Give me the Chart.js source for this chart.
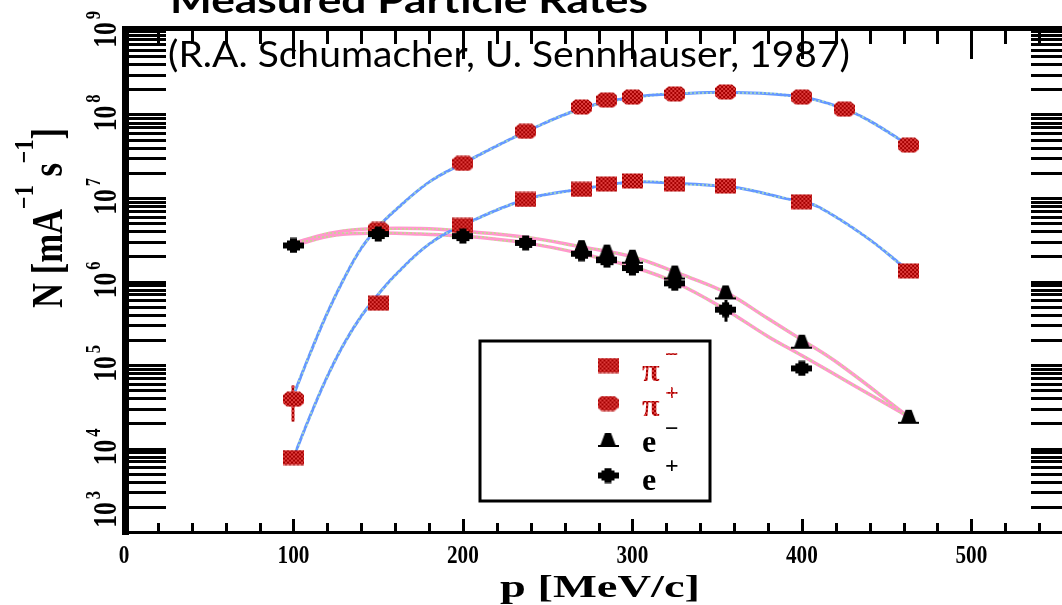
<!DOCTYPE html>
<html>
<head>
<meta charset="utf-8">
<title>Measured Particle Rates</title>
<script src="https://cdn.jsdelivr.net/npm/chart.js@4.4.1/dist/chart.umd.min.js"></script>
<style>
  html, body { margin: 0; padding: 0; background: #fff; overflow: hidden; }
  #wrap { position: relative; width: 1090px; height: 605px; }
</style>
</head>
<body>
<div id="wrap"><canvas id="rates" width="1090" height="605"></canvas></div>
<script>
// values: p in MeV/c, N in (mA s)^-1
const piMinusP = [100, 150, 200, 237, 270, 285, 300, 325, 355, 400, 463];
const piMinusN = [7.8e3, 5.5e5, 4.7e6, 9.6e6, 1.27e7, 1.47e7, 1.6e7, 1.47e7, 1.39e7, 9.0e6, 1.34e6];
const piPlusP = [100, 150, 200, 237, 270, 285, 300, 325, 355, 400, 425, 463];
const piPlusN = [3.9e4, 4.2e6, 2.6e7, 6.3e7, 1.23e8, 1.49e8, 1.62e8, 1.76e8, 1.86e8, 1.62e8, 1.16e8, 4.3e7];
const eMinusP = [270, 285, 300, 325, 355, 400, 463];
const eMinusN = [2.58e6, 2.28e6, 1.98e6, 1.28e6, 7.4e5, 1.9e5, 2.4e4];
const ePlusP = [100, 150, 200, 237, 270, 285, 300, 325, 355, 400];
const ePlusN = [2.7e6, 3.7e6, 3.5e6, 2.9e6, 2.15e6, 1.8e6, 1.45e6, 9.5e5, 4.6e5, 9.1e4];

// error bars as [p, low, high]
const piPlusErr = [[100, 2.1e4, 5.7e4]];
const ePlusErr = [[355, 3.3e5, 6.0e5]];

// the hand-drawn curves
const piPlusFitP = [101, 110, 120, 130, 140, 150, 160, 180, 200, 237, 270, 300, 330, 360, 400, 425, 440, 463];
const piPlusFitN = [4.9e4, 1.4e5, 4.2e5, 1.1e6, 2.5e6, 4.5e6, 7.1e6, 1.55e7, 2.6e7, 6.2e7, 1.18e8, 1.6e8, 1.78e8, 1.84e8, 1.62e8, 1.17e8, 8.4e7, 4.3e7];
const piMinusFitP = [100, 110, 120, 130, 140, 150, 160, 180, 200, 237, 270, 300, 325, 355, 370, 390, 400, 410, 438, 463];
const piMinusFitN = [7.8e3, 2.5e4, 7.3e4, 1.82e5, 3.84e5, 7.0e5, 1.19e6, 2.8e6, 4.73e6, 9.6e6, 1.28e7, 1.55e7, 1.5e7, 1.38e7, 1.24e7, 9.9e6, 9.0e6, 7.8e6, 3.4e6, 1.34e6];
const eMinusFitP = [100, 125, 150, 175, 200, 237, 270, 300, 325, 355, 380, 400, 420, 463];
const eMinusFitN = [2.9e6, 3.9e6, 4.3e6, 4.3e6, 4.0e6, 3.4e6, 2.6e6, 1.98e6, 1.3e6, 7.4e5, 3.6e5, 2.0e5, 1.1e5, 2.4e4];
const ePlusFitP = [100, 125, 150, 175, 200, 237, 270, 300, 325, 355, 380, 400, 430, 463];
const ePlusFitN = [2.7e6, 3.6e6, 3.8e6, 3.7e6, 3.5e6, 2.9e6, 2.15e6, 1.5e6, 9.8e5, 4.6e5, 2.2e5, 1.3e5, 5.8e4, 2.4e4];

// axes
const xLabelValues = [0, 100, 200, 300, 400, 500];
const xMinorStep = 20;
const yDecades = [3, 4, 5, 6, 7, 8, 9];

const legendBase = ['π', 'π', 'e', 'e'];
const legendCharge = ['−', '+', '−', '+'];

const SERIF = '"Liberation Serif", "DejaVu Serif", serif';

const canvas = document.getElementById('rates');
const ctx = canvas.getContext('2d');

// old gif dithering: two colours in a checker
function checkerTile(c1, c2, cell) {
  const c = document.createElement('canvas');
  c.width = c.height = cell * 2;
  const g = c.getContext('2d');
  g.fillStyle = c1;
  g.fillRect(0, 0, cell * 2, cell * 2);
  g.fillStyle = c2;
  g.fillRect(cell, 0, cell, cell);
  g.fillRect(0, cell, cell, cell);
  return c;
}
// mostly one colour with sparse dots of the other
function dotTile(main, dot) {
  const c = document.createElement('canvas');
  c.width = c.height = 4;
  const g = c.getContext('2d');
  g.fillStyle = main;
  g.fillRect(0, 0, 4, 4);
  g.fillStyle = dot;
  g.fillRect(2, 0, 2, 2);
  return c;
}
const redFill = ctx.createPattern(checkerTile('#a40000', '#de3c3c', 2), 'repeat');
const blueStroke = ctx.createPattern(dotTile('#6699ff', '#99cccc'), 'repeat');
const pinkStroke = ctx.createPattern(dotTile('#ff99cc', '#cccc99'), 'repeat');

const shapes = {
  square: [[0, 0.5], [21, 0.5], [21, 15.5], [0, 15.5]],
  circle: [[4, 0.5], [17, 0.5], [21, 4], [21, 12], [17, 15.5], [4, 15.5], [0, 12], [0, 4]],
  triangle: [[7.5, 1], [13.5, 1], [18, 13], [21, 13], [21, 15], [0, 15], [0, 13], [3, 13]],
  diamond: [[7, 0.5], [14, 0.5], [14, 3], [17, 3], [17, 5], [21, 5], [21, 11], [17, 11], [17, 13], [14, 13],
            [14, 15.5], [7, 15.5], [7, 13], [4, 13], [4, 11], [0, 11], [0, 5], [4, 5], [4, 3], [7, 3]],
};
function markerCanvas(shape, red) {
  const c = document.createElement('canvas');
  c.width = 21;
  c.height = 16;
  const g = c.getContext('2d');
  g.fillStyle = red ? g.createPattern(checkerTile('#a40000', '#de3c3c', 2), 'repeat') : '#000';
  g.beginPath();
  shapes[shape].forEach(([x, y], i) => (i ? g.lineTo(x, y) : g.moveTo(x, y)));
  g.closePath();
  g.fill();
  return c;
}
const markers = [
  markerCanvas('square', true),
  markerCanvas('circle', true),
  markerCanvas('triangle', false),
  markerCanvas('diamond', false),
];

const pts = (xs, ys) => xs.map((x, i) => ({ x, y: ys[i] }));
const fit = (label, xs, ys, stroke, w) => ({
  label, data: pts(xs, ys), borderColor: stroke, borderWidth: w,
  pointRadius: 0, fill: false, tension: 0.4, order: 5,
});
const marks = (label, xs, ys, img, order) => ({
  label, data: pts(xs, ys), showLine: false, pointStyle: img, pointRadius: 10, order,
});

function errorBars(g, xs, ys, list, color) {
  g.save();
  g.strokeStyle = color;
  g.lineWidth = 3;
  list.forEach(([p, lo, hi]) => {
    const x = Math.round(xs.getPixelForValue(p));
    g.beginPath();
    g.moveTo(x, ys.getPixelForValue(hi));
    g.lineTo(x, ys.getPixelForValue(lo));
    g.stroke();
  });
  g.restore();
}

// draw text pieces one after another, squeezed or stretched to a width
function pieces(g, parts, width) {
  let total = 0;
  parts.forEach((p) => { g.font = p.font; total += g.measureText(p.t).width; });
  const sx = width / total;
  g.scale(sx, 1);
  let x = 0;
  parts.forEach((p) => {
    g.font = p.font;
    g.fillStyle = p.color || '#000';
    g.fillText(p.t, x, p.dy || 0);
    x += g.measureText(p.t).width;
  });
}

const decorations = {
  id: 'decorations',
  beforeDatasetsDraw(chart) {
    const { x: xs, y: ys } = chart.scales;
    errorBars(chart.ctx, xs, ys, piPlusErr, redFill);
    errorBars(chart.ctx, xs, ys, ePlusErr, '#000');
  },
  afterDraw(chart) {
    const g = chart.ctx;
    const ca = chart.chartArea;
    const { x: xs, y: ys } = chart.scales;
    g.save();
    g.fillStyle = '#000';

    // frame
    g.fillRect(ca.left - 2, ca.top - 5, 7, ca.bottom - ca.top + 8);
    g.fillRect(ca.left - 2, ca.top - 5, ca.right - ca.left + 4, 5);
    g.fillRect(ca.left - 2, ca.bottom - 1, ca.right - ca.left + 4, 3);
    g.fillRect(ca.right - 5, ca.top - 5, 7, ca.bottom - ca.top + 8);

    // log ticks inside on both sides
    yDecades.forEach((e) => {
      for (let m = 1; m <= 9; m++) {
        const v = m * Math.pow(10, e);
        if (v > ys.max) break;
        const y = Math.round(ys.getPixelForValue(v));
        g.fillRect(ca.left + 5, y - 1, 37, 3);
        g.fillRect(ca.right - 42, y - 1, 37, 3);
      }
    });

    // x ticks, longer at the labelled ones
    for (let v = xMinorStep; v < xs.max; v += xMinorStep) {
      const x = Math.round(xs.getPixelForValue(v));
      const major = xLabelValues.includes(v);
      g.fillRect(x - 1, ca.bottom - 1 - (major ? 12 : 8), 3, major ? 12 : 8);
      g.fillRect(x - 1, ca.top, 3, major ? 28 : 13);
    }

    // x tick labels
    xLabelValues.forEach((v) => {
      const x = xs.getPixelForValue(v);
      g.save();
      g.translate(x, 563);
      g.scale(0.85, 1);
      g.font = 'bold 25px ' + SERIF;
      g.textAlign = 'center';
      g.fillText(String(v), 0, 0);
      g.restore();
    });

    // y tick labels, written upwards
    yDecades.forEach((e, i) => {
      let y = ys.getPixelForValue(Math.pow(10, e)) + 4;
      if (i === 0) y = ca.bottom - 17;
      g.save();
      g.translate(116, y);
      g.rotate(-Math.PI / 2);
      g.scale(0.75, 1);
      g.font = 'bold 34px ' + SERIF;
      g.textAlign = 'center';
      g.fillText('10', 0, 0);
      const w = g.measureText('10').width;
      g.font = 'bold 22px ' + SERIF;
      g.textAlign = 'left';
      g.fillText(String(e), w / 2 + 4, -16);
      g.restore();
    });

    // axis titles
    g.save();
    g.translate(500, 597);
    pieces(g, [{ t: 'p [MeV/c]', font: 'bold 32px ' + SERIF }], 200);
    g.restore();

    g.save();
    g.translate(62, 308);
    g.rotate(-Math.PI / 2);
    const big = 'bold 44px ' + SERIF, sup = 'bold 28px ' + SERIF;
    pieces(g, [
      { t: 'N [mA', font: big },
      { t: '−1', font: sup, dy: -29 },
      { t: ' s', font: big },
      { t: '−1', font: sup, dy: -29 },
      { t: ']', font: big },
    ], 180);
    g.restore();

    // legend box
    g.lineWidth = 3;
    g.strokeStyle = '#000';
    g.fillStyle = '#fff';
    g.fillRect(480, 341, 230, 160);
    g.strokeRect(480, 341, 230, 160);
    const rowSym = [365.5, 403.5, 440, 475.5];
    const rowBase = [381, 416, 452, 490];
    const rowSup = [356, 393.5, 430, 466.5];
    markers.forEach((img, i) => {
      g.drawImage(img, 608 - img.width / 2, rowSym[i] - img.height / 2);
      g.fillStyle = i < 2 ? redFill : '#000';
      g.font = 'bold 32px ' + SERIF;
      g.textAlign = 'left';
      g.textBaseline = 'alphabetic';
      g.fillText(legendBase[i], 642, rowBase[i]);
      g.font = 'bold 24px ' + SERIF;
      g.textBaseline = 'middle';
      g.fillText(legendCharge[i], 665, rowSup[i]);
      g.textBaseline = 'alphabetic';
    });

    // title and subtitle
    g.fillStyle = '#000';
    g.save();
    g.translate(170, 13);
    pieces(g, [{ t: 'Measured Particle Rates', font: 'bold 36px Lato, "Open Sans", sans-serif' }], 478);
    g.restore();
    g.save();
    g.translate(168, 67);
    pieces(g, [{ t: '(R.A. Schumacher, U. Sennhauser, 1987)', font: '36px Lato, "Open Sans", sans-serif' }], 682);
    g.restore();

    g.restore();
  },
};

new Chart(ctx, {
  type: 'line',
  data: {
    datasets: [
      marks('π⁻', piMinusP, piMinusN, markers[0], 2),
      marks('π⁺', piPlusP, piPlusN, markers[1], 2),
      marks('e⁻', eMinusP, eMinusN, markers[2], 1),
      marks('e⁺', ePlusP, ePlusN, markers[3], 1),
      fit('π⁺ fit', piPlusFitP, piPlusFitN, blueStroke, 3),
      fit('π⁻ fit', piMinusFitP, piMinusFitN, blueStroke, 3),
      fit('e⁻ fit', eMinusFitP, eMinusFitN, pinkStroke, 3.5),
      fit('e⁺ fit', ePlusFitP, ePlusFitN, pinkStroke, 3.5),
    ],
  },
  options: {
    responsive: false,
    animation: false,
    devicePixelRatio: 1,
    layout: { padding: { left: 124, right: 17, top: 31, bottom: 73 } },
    plugins: { legend: { display: false }, tooltip: { enabled: false } },
    scales: {
      x: { type: 'linear', min: 0, max: 560, display: false },
      y: { type: 'logarithmic', min: 1e3, max: 1e9, display: false },
    },
  },
  plugins: [decorations],
});
</script>
</body>
</html>
